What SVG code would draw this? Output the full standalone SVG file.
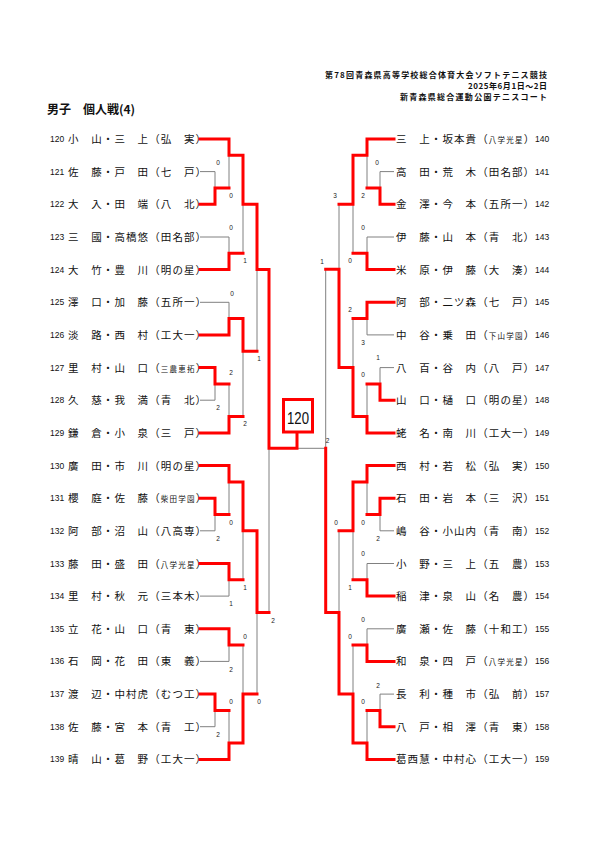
<svg xmlns="http://www.w3.org/2000/svg" width="595" height="842" viewBox="0 0 595 842">
<style>
.nm{font-family:"Noto Sans CJK JP","Noto Sans CJK SC",sans-serif;font-size:10.5px;letter-spacing:1.1px;fill:#111}
.e{letter-spacing:0}
.s4{font-size:7.5px;letter-spacing:1.2px}
.no{font-family:"Liberation Sans",Arial,sans-serif;font-size:8.5px;fill:#111}
.sc{font-family:"Liberation Sans",Arial,sans-serif;font-size:6.5px;fill:#222;text-anchor:middle}
.hd{font-family:"Noto Sans CJK JP",sans-serif;font-size:8px;font-weight:bold;text-anchor:end;fill:#111}
.tt{font-family:"Noto Sans CJK JP",sans-serif;font-size:12px;font-weight:bold;fill:#111}
.g{fill:none;stroke:#808080;stroke-width:1}
.r{fill:none;stroke:#ff0000;stroke-width:3;stroke-linecap:square;stroke-linejoin:miter}
</style>
<rect width="595" height="842" fill="#fff"/>
<g id="header">
<text class="hd" x="547" y="78" textLength="222" lengthAdjust="spacing">第78回青森県高等学校総合体育大会ソフトテニス競技</text>
<text class="hd" x="547" y="88.5" textLength="79" lengthAdjust="spacing">2025年6月1日～2日</text>
<text class="hd" x="547" y="100" textLength="147" lengthAdjust="spacing">新青森県総合運動公園テニスコート</text>
<text class="tt" x="47" y="114">男子　個人戦(4)</text>
</g>
<g id="left-entries">
<g id="p120"><text class="no" x="50" y="142">120</text><text class="nm" x="68" y="143">小　山・三　上（弘　実<tspan class="e">）</tspan></text></g>
<g id="p121"><text class="no" x="50" y="174.6">121</text><text class="nm" x="68" y="175.6">佐　藤・戸　田（七　戸<tspan class="e">）</tspan></text></g>
<g id="p122"><text class="no" x="50" y="207.3">122</text><text class="nm" x="68" y="208.3">大　入・田　端（八　北<tspan class="e">）</tspan></text></g>
<g id="p123"><text class="no" x="50" y="240">123</text><text class="nm" x="68" y="241">三　國・高橋悠（田名部<tspan class="e">）</tspan></text></g>
<g id="p124"><text class="no" x="50" y="272.6">124</text><text class="nm" x="68" y="273.6">大　竹・豊　川（明の星<tspan class="e">）</tspan></text></g>
<g id="p125"><text class="no" x="50" y="305.3">125</text><text class="nm" x="68" y="306.3">澤　口・加　藤（五所一<tspan class="e">）</tspan></text></g>
<g id="p126"><text class="no" x="50" y="337.9">126</text><text class="nm" x="68" y="338.9">淡　路・西　村（工大一<tspan class="e">）</tspan></text></g>
<g id="p127"><text class="no" x="50" y="370.6">127</text><text class="nm" x="68" y="371.6">里　村・山　口（<tspan class="s4">三農恵拓</tspan><tspan class="e">）</tspan></text></g>
<g id="p128"><text class="no" x="50" y="403.2">128</text><text class="nm" x="68" y="404.2">久　慈・我　満（青　北<tspan class="e">）</tspan></text></g>
<g id="p129"><text class="no" x="50" y="435.9">129</text><text class="nm" x="68" y="436.9">鎌　倉・小　泉（三　戸<tspan class="e">）</tspan></text></g>
<g id="p130"><text class="no" x="50" y="468.5">130</text><text class="nm" x="68" y="469.5">廣　田・市　川（明の星<tspan class="e">）</tspan></text></g>
<g id="p131"><text class="no" x="50" y="501.2">131</text><text class="nm" x="68" y="502.2">櫻　庭・佐　藤（<tspan class="s4">柴田学園</tspan><tspan class="e">）</tspan></text></g>
<g id="p132"><text class="no" x="50" y="533.8">132</text><text class="nm" x="68" y="534.8">阿　部・沼　山（八高専<tspan class="e">）</tspan></text></g>
<g id="p133"><text class="no" x="50" y="566.5">133</text><text class="nm" x="68" y="567.5">藤　田・盛　田（<tspan class="s4">八学光星</tspan><tspan class="e">）</tspan></text></g>
<g id="p134"><text class="no" x="50" y="599.1">134</text><text class="nm" x="68" y="600.1">里　村・秋　元（三本木<tspan class="e">）</tspan></text></g>
<g id="p135"><text class="no" x="50" y="631.8">135</text><text class="nm" x="68" y="632.8">立　花・山　口（青　東<tspan class="e">）</tspan></text></g>
<g id="p136"><text class="no" x="50" y="664.4">136</text><text class="nm" x="68" y="665.4">石　岡・花　田（東　義<tspan class="e">）</tspan></text></g>
<g id="p137"><text class="no" x="50" y="697.1">137</text><text class="nm" x="68" y="698.1">渡　辺・中村虎（むつ工<tspan class="e">）</tspan></text></g>
<g id="p138"><text class="no" x="50" y="729.7">138</text><text class="nm" x="68" y="730.7">佐　藤・宮　本（青　工<tspan class="e">）</tspan></text></g>
<g id="p139"><text class="no" x="50" y="762.4">139</text><text class="nm" x="68" y="763.4">晴　山・葛　野（工大一<tspan class="e">）</tspan></text></g>
</g>
<g id="right-entries">
<g id="p140"><text class="nm" x="396" y="143">三　上・坂本貴（<tspan class="s4">八学光星</tspan><tspan class="e">）</tspan></text><text class="no" x="535" y="142">140</text></g>
<g id="p141"><text class="nm" x="396" y="175.6">高　田・荒　木（田名部<tspan class="e">）</tspan></text><text class="no" x="535" y="174.6">141</text></g>
<g id="p142"><text class="nm" x="396" y="208.3">金　澤・今　本（五所一<tspan class="e">）</tspan></text><text class="no" x="535" y="207.3">142</text></g>
<g id="p143"><text class="nm" x="396" y="241">伊　藤・山　本（青　北<tspan class="e">）</tspan></text><text class="no" x="535" y="240">143</text></g>
<g id="p144"><text class="nm" x="396" y="273.6">米　原・伊　藤（大　湊<tspan class="e">）</tspan></text><text class="no" x="535" y="272.6">144</text></g>
<g id="p145"><text class="nm" x="396" y="306.3">阿　部・二ツ森（七　戸<tspan class="e">）</tspan></text><text class="no" x="535" y="305.3">145</text></g>
<g id="p146"><text class="nm" x="396" y="338.9">中　谷・乗　田（<tspan class="s4">下山学園</tspan><tspan class="e">）</tspan></text><text class="no" x="535" y="337.9">146</text></g>
<g id="p147"><text class="nm" x="396" y="371.6">八　百・谷　内（八　戸<tspan class="e">）</tspan></text><text class="no" x="535" y="370.6">147</text></g>
<g id="p148"><text class="nm" x="396" y="404.2">山　口・樋　口（明の星<tspan class="e">）</tspan></text><text class="no" x="535" y="403.2">148</text></g>
<g id="p149"><text class="nm" x="396" y="436.9">蛯　名・南　川（工大一<tspan class="e">）</tspan></text><text class="no" x="535" y="435.9">149</text></g>
<g id="p150"><text class="nm" x="396" y="469.5">西　村・若　松（弘　実<tspan class="e">）</tspan></text><text class="no" x="535" y="468.5">150</text></g>
<g id="p151"><text class="nm" x="396" y="502.2">石　田・岩　本（三　沢<tspan class="e">）</tspan></text><text class="no" x="535" y="501.2">151</text></g>
<g id="p152"><text class="nm" x="396" y="534.8">嶋　谷・小山内（青　南<tspan class="e">）</tspan></text><text class="no" x="535" y="533.8">152</text></g>
<g id="p153"><text class="nm" x="396" y="567.5">小　野・三　上（五　農<tspan class="e">）</tspan></text><text class="no" x="535" y="566.5">153</text></g>
<g id="p154"><text class="nm" x="396" y="600.1">稲　津・泉　山（名　農<tspan class="e">）</tspan></text><text class="no" x="535" y="599.1">154</text></g>
<g id="p155"><text class="nm" x="396" y="632.8">廣　瀬・佐　藤（十和工<tspan class="e">）</tspan></text><text class="no" x="535" y="631.8">155</text></g>
<g id="p156"><text class="nm" x="396" y="665.4">和　泉・四　戸（<tspan class="s4">八学光星</tspan><tspan class="e">）</tspan></text><text class="no" x="535" y="664.4">156</text></g>
<g id="p157"><text class="nm" x="396" y="698.1">長　利・種　市（弘　前<tspan class="e">）</tspan></text><text class="no" x="535" y="697.1">157</text></g>
<g id="p158"><text class="nm" x="396" y="730.7">八　戸・相　澤（青　東<tspan class="e">）</tspan></text><text class="no" x="535" y="729.7">158</text></g>
<g id="p159"><text class="nm" x="396" y="763.4">葛西慧・中村心（工大一<tspan class="e">）</tspan></text><text class="no" x="535" y="762.4">159</text></g>
</g>
<g id="connectors">
<polyline class="g" points="200,171.6 215,171.6 215,188"/>
<polyline class="g" points="215,188 229,188 229,155.3"/>
<polyline class="g" points="200,237 229,237 229,253.3"/>
<polyline class="g" points="229,253.3 243,253.3 243,204.3"/>
<polyline class="g" points="200,302.3 229,302.3 229,318.6"/>
<polyline class="g" points="200,400.2 215,400.2 215,383.9"/>
<polyline class="g" points="215,383.9 229,383.9 229,416.6"/>
<polyline class="g" points="229,416.6 243,416.6 243,351.3"/>
<polyline class="g" points="243,351.3 257,351.3 257,269.6"/>
<polyline class="g" points="200,530.8 215,530.8 215,514.5"/>
<polyline class="g" points="215,514.5 229,514.5 229,481.9"/>
<polyline class="g" points="200,596.1 229,596.1 229,579.8"/>
<polyline class="g" points="229,579.8 243,579.8 243,530.8"/>
<polyline class="g" points="200,661.4 229,661.4 229,645.1"/>
<polyline class="g" points="200,726.7 215,726.7 215,710.4"/>
<polyline class="g" points="215,710.4 229,710.4 229,743.1"/>
<polyline class="g" points="229,645.1 243,645.1 243,694.1"/>
<polyline class="g" points="243,694.1 257,694.1 257,612.5"/>
<polyline class="g" points="257,612.5 269,612.5 269,448.3"/>
<polyline class="g" points="394,171.6 380,171.6 380,188"/>
<polyline class="g" points="380,188 367,188 367,155.3"/>
<polyline class="g" points="394,237 367,237 367,253.3"/>
<polyline class="g" points="367,253.3 353,253.3 353,204.3"/>
<polyline class="g" points="394,334.9 367,334.9 367,318.6"/>
<polyline class="g" points="394,367.6 380,367.6 380,383.9"/>
<polyline class="g" points="380,383.9 367,383.9 367,416.6"/>
<polyline class="g" points="367,318.6 353,318.6 353,367.6"/>
<polyline class="g" points="353,204.3 339,204.3 339,269.3"/>
<polyline class="g" points="394,530.8 380,530.8 380,514.5"/>
<polyline class="g" points="380,514.5 367,514.5 367,481.9"/>
<polyline class="g" points="394,563.5 367,563.5 367,579.8"/>
<polyline class="g" points="367,579.8 353,579.8 353,530.8"/>
<polyline class="g" points="394,628.8 367,628.8 367,645.1"/>
<polyline class="g" points="394,694.1 380,694.1 380,710.4"/>
<polyline class="g" points="380,710.4 367,710.4 367,743.1"/>
<polyline class="g" points="367,645.1 353,645.1 353,694.1"/>
<polyline class="g" points="353,530.8 339,530.8 339,612.5"/>
<polyline class="g" points="339,269.3 325.7,269.3 325.7,448.3"/>
<polyline class="g" points="325.7,448.3 297,448.3"/>
<polyline class="r" points="200,139 229,139 229,155.3 243,155.3 243,204.3 257,204.3 257,269.6 269,269.6 269,448.3 297,448.3 297,432"/>
<polyline class="r" points="200,204.3 215,204.3 215,188 229,188"/>
<polyline class="r" points="200,269.6 229,269.6 229,253.3 243,253.3"/>
<polyline class="r" points="200,334.9 229,334.9 229,318.6 243,318.6 243,351.3 257,351.3"/>
<polyline class="r" points="200,367.6 215,367.6 215,383.9 229,383.9"/>
<polyline class="r" points="200,432.9 229,432.9 229,416.6 243,416.6"/>
<polyline class="r" points="200,465.5 229,465.5 229,481.9 243,481.9 243,530.8 257,530.8 257,612.5 269,612.5"/>
<polyline class="r" points="200,498.2 215,498.2 215,514.5 229,514.5"/>
<polyline class="r" points="200,563.5 229,563.5 229,579.8 243,579.8"/>
<polyline class="r" points="200,628.8 229,628.8 229,645.1 243,645.1"/>
<polyline class="r" points="200,694.1 215,694.1 215,710.4 229,710.4"/>
<polyline class="r" points="200,759.4 229,759.4 229,743.1 243,743.1 243,694.1 257,694.1"/>
<polyline class="r" points="394,139 367,139 367,155.3 353,155.3 353,204.3 339,204.3"/>
<polyline class="r" points="394,204.3 380,204.3 380,188 367,188"/>
<polyline class="r" points="394,269.6 367,269.6 367,253.3 353,253.3"/>
<polyline class="r" points="394,302.3 367,302.3 367,318.6 353,318.6"/>
<polyline class="r" points="394,400.2 380,400.2 380,383.9 367,383.9"/>
<polyline class="r" points="394,432.9 367,432.9 367,416.6 353,416.6 353,367.6 339,367.6 339,269.3 325.7,269.3"/>
<polyline class="r" points="394,465.5 367,465.5 367,481.9 353,481.9 353,530.8 339,530.8"/>
<polyline class="r" points="394,498.2 380,498.2 380,514.5 367,514.5"/>
<polyline class="r" points="394,596.1 367,596.1 367,579.8 353,579.8"/>
<polyline class="r" points="394,661.4 367,661.4 367,645.1 353,645.1"/>
<polyline class="r" points="394,726.7 380,726.7 380,710.4 367,710.4"/>
<polyline class="r" points="394,759.4 367,759.4 367,743.1 353,743.1 353,694.1 339,694.1 339,612.5 325.7,612.5 325.7,448.3"/>
</g>
<g id="winner-box">
<rect x="283.5" y="399.5" width="29" height="32.5" fill="#fff" stroke="#ff0000" stroke-width="3"/>
<text x="298" y="423.5" font-family="Liberation Sans, Arial, sans-serif" font-size="17" text-anchor="middle" textLength="22" lengthAdjust="spacingAndGlyphs" fill="#111">120</text>
</g>
<g id="scores">
<text class="sc" x="218" y="165.3">0</text>
<text class="sc" x="231" y="198.3">0</text>
<text class="sc" x="231" y="230.3">0</text>
<text class="sc" x="245" y="263.3">1</text>
<text class="sc" x="232" y="296.3">0</text>
<text class="sc" x="231" y="375.3">2</text>
<text class="sc" x="218" y="410.3">2</text>
<text class="sc" x="245" y="426.3">2</text>
<text class="sc" x="259" y="361.3">1</text>
<text class="sc" x="231" y="525.3">0</text>
<text class="sc" x="218" y="541.3">2</text>
<text class="sc" x="245" y="590.3">1</text>
<text class="sc" x="231" y="606.3">1</text>
<text class="sc" x="273" y="623.3">2</text>
<text class="sc" x="245" y="639.3">0</text>
<text class="sc" x="231" y="672.3">2</text>
<text class="sc" x="231" y="704.3">0</text>
<text class="sc" x="259" y="704.3">0</text>
<text class="sc" x="218" y="737.3">2</text>
<text class="sc" x="377" y="165.3">0</text>
<text class="sc" x="363" y="198.3">2</text>
<text class="sc" x="335" y="198.3">3</text>
<text class="sc" x="363" y="230.3">0</text>
<text class="sc" x="350" y="263.3">0</text>
<text class="sc" x="322" y="264.3">1</text>
<text class="sc" x="350" y="312.3">2</text>
<text class="sc" x="363" y="345.3">3</text>
<text class="sc" x="378" y="360.3">1</text>
<text class="sc" x="363" y="377.3">0</text>
<text class="sc" x="327.5" y="443.3">2</text>
<text class="sc" x="336" y="525.3">0</text>
<text class="sc" x="363" y="525.3">0</text>
<text class="sc" x="378" y="541.3">2</text>
<text class="sc" x="363" y="556.3">0</text>
<text class="sc" x="350" y="590.3">1</text>
<text class="sc" x="363" y="622.3">0</text>
<text class="sc" x="350" y="639.3">0</text>
<text class="sc" x="378" y="688.3">2</text>
<text class="sc" x="363" y="704.3">0</text>
</g>
</svg>
